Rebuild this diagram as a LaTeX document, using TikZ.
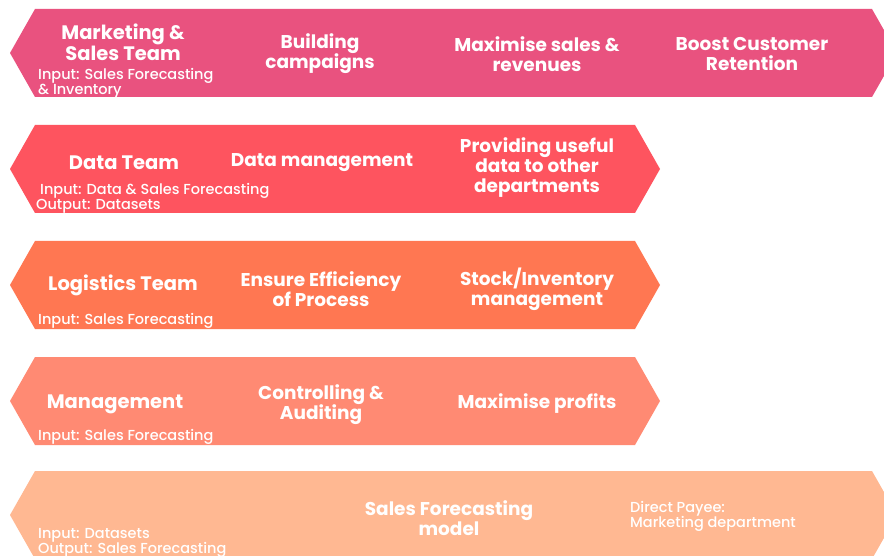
\documentclass[tikz,border=0pt]{standalone}
\usepackage{fontspec}
\setmainfont{Poppins}
\newfontfamily\medfont{Poppins Medium}
\definecolor{rowA}{HTML}{E9527F}
\definecolor{rowB}{HTML}{FE545F}
\definecolor{rowC}{HTML}{FF7752}
\definecolor{rowD}{HTML}{FF8A73}
\definecolor{rowE}{HTML}{FFB892}
\tikzset{
  head/.style={text=white, align=center, font=\bfseries\fontsize{19.5}{19}\selectfont, inner sep=0pt},
  item/.style={text=white, align=center, font=\bfseries\fontsize{18.5}{20}\selectfont, inner sep=0pt},
  note/.style={text=white, align=left, anchor=west, font=\medfont\fontsize{14.5}{15}\selectfont, inner sep=0pt},
}
\begin{document}
\begin{tikzpicture}[x=1pt,y=-1pt]
\useasboundingbox (0,0) rectangle (884,556);
\clip (0,0) rectangle (884,556);
\fill[white] (0,0) rectangle (884,556);
% bands
\fill[rowA] (35,9) -- (872,9) -- (897,53) -- (872,97) -- (35,97) -- (10,53) -- cycle;
\fill[rowB] (35,125) -- (635,125) -- (660,169) -- (635,213) -- (35,213) -- (10,169) -- cycle;
\fill[rowC] (35,241) -- (635,241) -- (660,285) -- (635,329) -- (35,329) -- (10,285) -- cycle;
\fill[rowD] (35,357) -- (635,357) -- (660,401) -- (635,445) -- (35,445) -- (10,401) -- cycle;
\fill[rowE] (35,471) -- (872,471) -- (897,515) -- (872,559) -- (35,559) -- (10,515) -- cycle;
% row 1
\node[head] (mkt) at (123,42) {Marketing \&\\Sales Team};
\node[note] (mktin) at (38,83) {Input: Sales Forecasting\\\& Inventory};
\node[item] (mkt1) at (320,54) {Building\\campaigns};
\node[item] (mkt2) at (537,54) {Maximise sales \&\\revenues};
\node[item] (mkt3) at (752,54) {Boost Customer\\Retention};
% row 2
\node[head] (data) at (124,163) {Data Team};
\node[note] (datain) at (40,191) {Input: Data \& Sales Forecasting};
\node[note] (dataout) at (36,206) {Output: Datasets};
\node[item] (data1) at (322,163) {Data management};
\node[item] (data2) at (537,168) {Providing useful\\data to other\\departments};
% row 3
\node[head] (log) at (123,285) {Logistics Team};
\node[note] (login) at (38,321) {Input: Sales Forecasting};
\node[item] (log1) at (321,289) {Ensure Efficiency\\of Process};
\node[item] (log2) at (537,289) {Stock/Inventory\\management};
% row 4
\node[head] (mgt) at (115,404) {Management};
\node[note] (mgtin) at (38,437) {Input: Sales Forecasting};
\node[item] (mgt1) at (321,405) {Controlling \&\\Auditing};
\node[item] (mgt2) at (537,404) {Maximise profits};
% row 5
\node[item] (sfm) at (449,518) {Sales Forecasting\\model};
\node[note] (payee) at (630,516) {Direct Payee:\\Marketing department};
\node[note] (sfin) at (38,543) {Input: Datasets\\Output: Sales Forecasting};
\end{tikzpicture}
\end{document}
